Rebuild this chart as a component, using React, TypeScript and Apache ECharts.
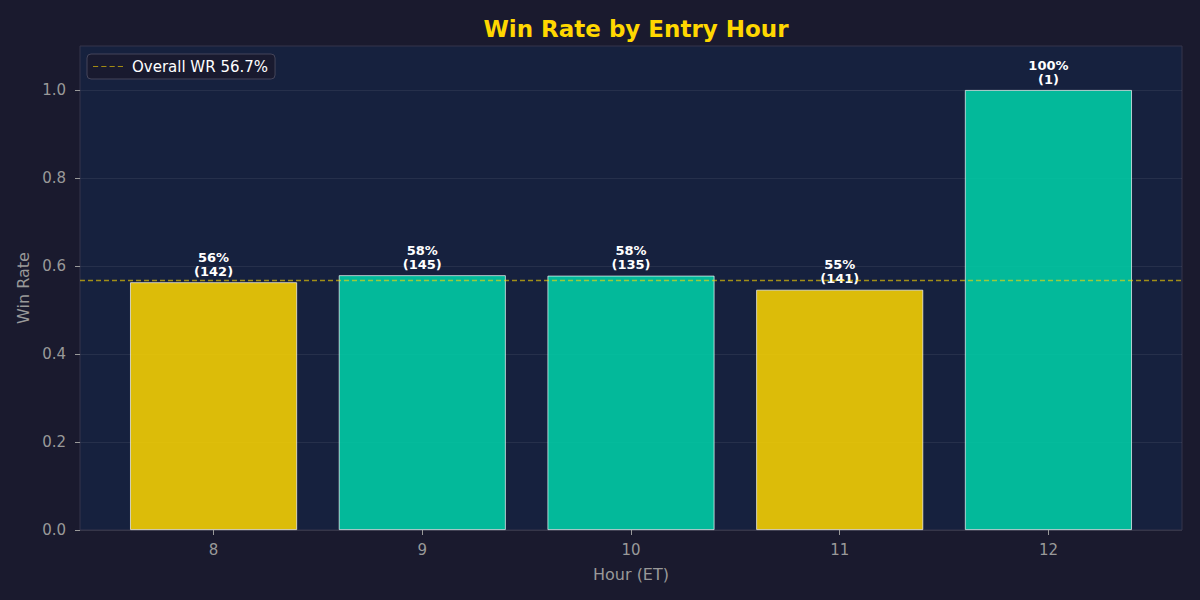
import React, { useEffect, useRef } from "react";
import * as echarts from "echarts";

const hours = ["8", "9", "10", "11", "12"];
const winRates = [0.563, 0.579, 0.578, 0.546, 1.0];
const counts = [142, 145, 135, 141, 1];
const overallWR = 0.567;
const yTicks = [0, 0.2, 0.4, 0.6, 0.8, 1.0];
const xPositions = [0, 1, 2, 3, 4];

const FONT = "DejaVu Sans";
const GRAY = "#999999";

export default function App() {
  const ref = useRef<HTMLDivElement>(null);
  useEffect(() => {
    if (!ref.current) return;
    document.body.style.margin = "0";
    const chart = echarts.init(ref.current, null, { renderer: "svg" });
    const xMin = -0.64;
    const xMax = 4.64;
    chart.setOption({
      animation: false,
      backgroundColor: "#1a1a2e",
      textStyle: { fontFamily: FONT },
      title: {
        text: "Win Rate by Entry Hour",
        left: 631,
        textAlign: "center",
        top: 12,
        textStyle: { color: "#ffd700", fontSize: 23, fontWeight: "bold", fontFamily: FONT },
      },
      legend: {
        left: 87,
        top: 54,
        padding: [5, 7, 5, 6],
        backgroundColor: "rgba(26,26,46,0.9)",
        borderColor: "#45455a",
        borderWidth: 1,
        borderRadius: 4,
        itemWidth: 30,
        itemHeight: 2,
        itemGap: 10,
        textStyle: { color: "#ffffff", fontSize: 15, fontFamily: FONT, padding: [0, 0, 0, 4] },
        data: [
          {
            name: `Overall WR ${(overallWR * 100).toFixed(1)}%`,
            icon: "path://M0,0h5v1h-5z M8,0h5v1h-5z M16,0h5v1h-5z M24,0h5v1h-5z",
            itemStyle: { color: "rgba(255,215,0,0.6)" },
          },
        ],
      },
      grid: {
        left: 80,
        right: 18,
        top: 46,
        bottom: 70,
        show: true,
        backgroundColor: "#16213e",
        borderColor: "#34344a",
        borderWidth: 1,
      },
      xAxis: {
        type: "value",
        min: xMin,
        max: xMax,
        name: "Hour (ET)",
        nameLocation: "middle",
        nameGap: 36,
        nameTextStyle: { color: GRAY, fontSize: 16, fontFamily: FONT },
        axisLine: { show: false, onZero: false },
        splitLine: { show: false },
        axisTick: {
          show: true,
          customValues: xPositions,
          length: 5,
          lineStyle: { color: GRAY },
        },
        axisLabel: {
          customValues: xPositions,
          color: GRAY,
          fontSize: 15,
          margin: 12,
          fontFamily: FONT,
          formatter: (v: number) => hours[Math.round(v)] ?? "",
        },
      },
      yAxis: {
        type: "value",
        min: 0,
        max: 1.1,
        interval: 0.2,
        name: "Win Rate",
        nameLocation: "middle",
        nameGap: 48,
        nameTextStyle: { color: GRAY, fontSize: 16, fontFamily: FONT },
        axisLine: { show: false, onZero: false },
        axisTick: {
          show: true,
          customValues: yTicks,
          length: 5,
          lineStyle: { color: GRAY },
        },
        axisLabel: {
          customValues: yTicks,
          color: GRAY,
          fontSize: 15,
          margin: 14,
          fontFamily: FONT,
          formatter: (v: number) => v.toFixed(1),
        },
        splitLine: { show: true, lineStyle: { color: "rgba(255,255,255,0.07)", width: 1 } },
      },
      series: [
        {
          type: "bar",
          barWidth: 167,
          data: winRates.map((v, i) => [xPositions[i], v]),
          itemStyle: {
            color: (p: any) =>
              winRates[p.dataIndex] >= overallWR ? "rgba(0,212,170,0.85)" : "rgba(255,215,0,0.85)",
            borderColor: "rgba(255,255,255,0.85)",
            borderWidth: 0.8,
          },
          label: {
            show: true,
            position: "top",
            distance: 4,
            color: "#ffffff",
            fontSize: 13,
            fontWeight: "bold",
            lineHeight: 14,
            fontFamily: FONT,
            formatter: (p: any) =>
              `${Math.round(winRates[p.dataIndex] * 100)}%\n(${counts[p.dataIndex]})`,
          },
          z: 2,
        },
        {
          type: "line",
          name: `Overall WR ${(overallWR * 100).toFixed(1)}%`,
          data: [
            [xMin, overallWR],
            [xMax, overallWR],
          ],
          symbol: "none",
          lineStyle: { color: "rgba(255,215,0,0.6)", width: 1.5, type: [5, 3] },
          itemStyle: { color: "rgba(255,215,0,0.6)" },
          z: 5,
        },
      ],
    });
    return () => chart.dispose();
  }, []);
  return <div ref={ref} style={{ width: 1200, height: 600 }} />;
}
